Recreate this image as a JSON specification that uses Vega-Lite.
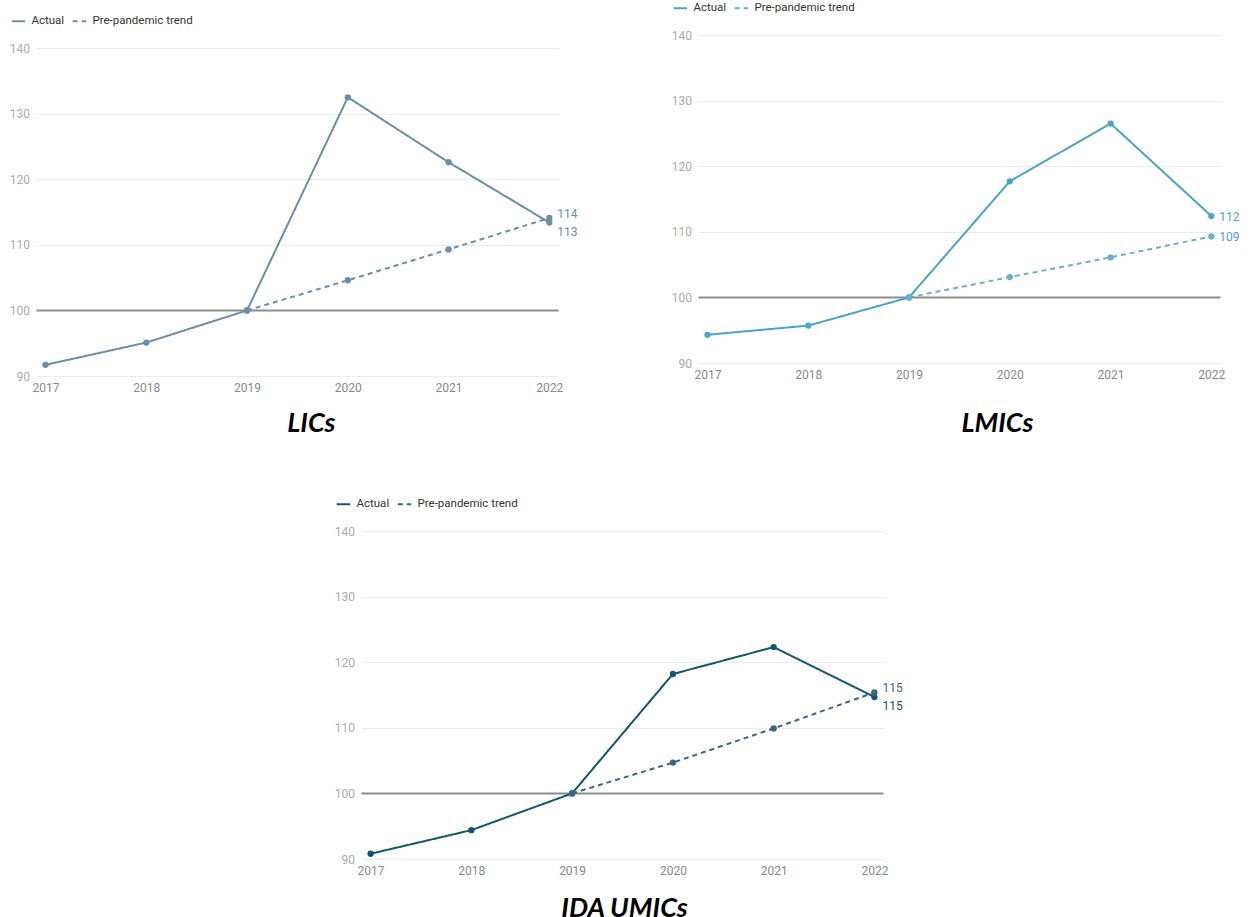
{
  "$schema": "https://vega.github.io/schema/vega-lite/v6.json",
  "background": "white",
  "padding": {"left": 0, "top": 0, "right": 5, "bottom": 0},
  "config": {
    "font": "Roboto",
    "view": {"stroke": null},
    "legend": {
      "orient": "none",
      "direction": "horizontal",
      "title": null,
      "symbolType": "stroke",
      "symbolStrokeWidth": 2,
      "symbolSize": 180,
      "labelFontSize": 11.5,
      "labelColor": "#333333",
      "labelFont": "Roboto",
      "labelOffset": 5,
      "columnPadding": 4,
      "padding": 0
    },
    "title": {"font": "Lato", "fontSize": 27, "fontWeight": "bold", "fontStyle": "italic", "color": "#000000", "orient": "bottom", "anchor": "middle"}
  },
  "datasets": {
    "lics": [
      {"year": "2017", "series": "Actual", "value": 91.7},
      {"year": "2018", "series": "Actual", "value": 95.1},
      {"year": "2019", "series": "Actual", "value": 100},
      {"year": "2020", "series": "Actual", "value": 132.5},
      {"year": "2021", "series": "Actual", "value": 122.6},
      {"year": "2022", "series": "Actual", "value": 113.4},
      {"year": "2019", "series": "Pre-pandemic trend", "value": 100},
      {"year": "2020", "series": "Pre-pandemic trend", "value": 104.6},
      {"year": "2021", "series": "Pre-pandemic trend", "value": 109.3},
      {"year": "2022", "series": "Pre-pandemic trend", "value": 114.1}
    ],
    "lmics": [
      {"year": "2017", "series": "Actual", "value": 94.3},
      {"year": "2018", "series": "Actual", "value": 95.7},
      {"year": "2019", "series": "Actual", "value": 100},
      {"year": "2020", "series": "Actual", "value": 117.7},
      {"year": "2021", "series": "Actual", "value": 126.5},
      {"year": "2022", "series": "Actual", "value": 112.4},
      {"year": "2019", "series": "Pre-pandemic trend", "value": 100},
      {"year": "2020", "series": "Pre-pandemic trend", "value": 103.1},
      {"year": "2021", "series": "Pre-pandemic trend", "value": 106.1},
      {"year": "2022", "series": "Pre-pandemic trend", "value": 109.3}
    ],
    "ida_umics": [
      {"year": "2017", "series": "Actual", "value": 90.8},
      {"year": "2018", "series": "Actual", "value": 94.4},
      {"year": "2019", "series": "Actual", "value": 100},
      {"year": "2020", "series": "Actual", "value": 118.2},
      {"year": "2021", "series": "Actual", "value": 122.3},
      {"year": "2022", "series": "Actual", "value": 114.7},
      {"year": "2019", "series": "Pre-pandemic trend", "value": 100},
      {"year": "2020", "series": "Pre-pandemic trend", "value": 104.7},
      {"year": "2021", "series": "Pre-pandemic trend", "value": 109.9},
      {"year": "2022", "series": "Pre-pandemic trend", "value": 115.4}
    ],
    "baseline": [{"level": 100}]
  },
  "vconcat": [
    {
      "hconcat": [
        {
          "width": 522, "height": 341,
          "title": {"text": "LICs", "dx": 14, "offset": 18},
          "layer": [
            {
              "data": {"name": "baseline"},
              "mark": {"type": "rule", "color": "#8c8c8c", "strokeWidth": 2},
              "encoding": {"y": {"field": "level", "type": "quantitative", "scale": {"domain": [90, 142], "nice": false, "zero": false}, "axis": {"values": [90, 100, 110, 120, 130, 140], "grid": true, "gridColor": "#ebebeb", "domain": false, "ticks": false, "labelColor": "#aaaaaa", "labelFontSize": 12, "labelPadding": 7, "minExtent": 36, "title": null}}}
            },
            {
              "data": {"name": "lics"},
              "mark": {"type": "line", "strokeWidth": 2},
              "encoding": {
                "x": {"field": "year", "type": "ordinal", "scale": {"type": "point", "padding": 0.09}, "axis": {"domain": false, "ticks": false, "labelAngle": 0, "labelColor": "#888888", "labelFontSize": 12, "labelPadding": 6, "title": null}},
                "y": {"field": "value", "type": "quantitative"},
                "color": {"field": "series", "type": "nominal", "scale": {"domain": ["Actual", "Pre-pandemic trend"], "range": ["#6a8fa5", "#6a8fa5"]}, "legend": {"symbolType": "stroke", "legendX": -26, "legendY": -22}},
                "strokeDash": {"field": "series", "type": "nominal", "scale": {"domain": ["Actual", "Pre-pandemic trend"], "range": [[1, 0], [5, 4]]}}
              }
            },
            {
              "data": {"name": "lics"},
              "mark": {"type": "point", "filled": true, "opacity": 1, "size": 40},
              "encoding": {
                "x": {"field": "year", "type": "ordinal"},
                "y": {"field": "value", "type": "quantitative"},
                "color": {"field": "series", "type": "nominal", "legend": null}
              }
            },
            {
              "data": {"name": "lics"},
              "transform": [{"filter": "datum.year == '2022' && datum.series == 'Pre-pandemic trend'"}],
              "mark": {"type": "text", "align": "left", "dx": 8, "dy": -4, "fontSize": 12, "color": "#6a8fa5"},
              "encoding": {"x": {"field": "year", "type": "ordinal"}, "y": {"field": "value", "type": "quantitative"}, "text": {"field": "value", "type": "quantitative", "format": ".0f"}}
            },
            {
              "data": {"name": "lics"},
              "transform": [{"filter": "datum.year == '2022' && datum.series == 'Actual'"}],
              "mark": {"type": "text", "align": "left", "dx": 8, "dy": 9, "fontSize": 12, "color": "#6a8fa5"},
              "encoding": {"x": {"field": "year", "type": "ordinal"}, "y": {"field": "value", "type": "quantitative"}, "text": {"field": "value", "type": "quantitative", "format": ".0f"}}
            }
          ]
        },
        {
          "width": 522, "height": 328,
          "title": {"text": "LMICs", "dx": 38, "offset": 31},
          "layer": [
            {
              "data": {"name": "baseline"},
              "mark": {"type": "rule", "color": "#8c8c8c", "strokeWidth": 2},
              "encoding": {"y": {"field": "level", "type": "quantitative", "scale": {"domain": [90, 140], "nice": false, "zero": false}, "axis": {"values": [90, 100, 110, 120, 130, 140], "grid": true, "gridColor": "#ebebeb", "domain": false, "ticks": false, "labelColor": "#aaaaaa", "labelFontSize": 12, "labelPadding": 7, "title": null}}}
            },
            {
              "data": {"name": "lmics"},
              "mark": {"type": "line", "strokeWidth": 2},
              "encoding": {
                "x": {"field": "year", "type": "ordinal", "scale": {"type": "point", "padding": 0.09}, "axis": {"domain": false, "ticks": false, "labelAngle": 0, "labelColor": "#888888", "labelFontSize": 12, "labelPadding": 6, "title": null}},
                "y": {"field": "value", "type": "quantitative"},
                "color": {"field": "series", "type": "nominal", "scale": {"domain": ["Actual", "Pre-pandemic trend"], "range": ["#4aa3c9", "#6aaed0"]}, "legend": {"symbolType": "stroke", "legendX": -26, "legendY": -35}},
                "strokeDash": {"field": "series", "type": "nominal", "scale": {"domain": ["Actual", "Pre-pandemic trend"], "range": [[1, 0], [5, 4]]}}
              }
            },
            {
              "data": {"name": "lmics"},
              "mark": {"type": "point", "filled": true, "opacity": 1, "size": 40},
              "encoding": {
                "x": {"field": "year", "type": "ordinal"},
                "y": {"field": "value", "type": "quantitative"},
                "color": {"field": "series", "type": "nominal", "legend": null}
              }
            },
            {
              "data": {"name": "lmics"},
              "transform": [{"filter": "datum.year == '2022' && datum.series == 'Pre-pandemic trend'"}],
              "mark": {"type": "text", "align": "left", "dx": 8, "dy": 1, "fontSize": 12, "color": "#4aa3c9"},
              "encoding": {"x": {"field": "year", "type": "ordinal"}, "y": {"field": "value", "type": "quantitative"}, "text": {"field": "value", "type": "quantitative", "format": ".0f"}}
            },
            {
              "data": {"name": "lmics"},
              "transform": [{"filter": "datum.year == '2022' && datum.series == 'Actual'"}],
              "mark": {"type": "text", "align": "left", "dx": 8, "dy": 1, "fontSize": 12, "color": "#4aa3c9"},
              "encoding": {"x": {"field": "year", "type": "ordinal"}, "y": {"field": "value", "type": "quantitative"}, "text": {"field": "value", "type": "quantitative", "format": ".0f"}}
            }
          ]
        }
      ],
      "spacing": 92,
      "resolve": {"scale": {"color": "independent", "strokeDash": "independent", "x": "independent", "y": "independent"}, "legend": {"color": "independent", "strokeDash": "independent"}}
    },
    {
      "width": 522, "height": 328,
      "title": {"text": "IDA UMICs", "dx": 2, "offset": 20},
      "resolve": {"axis": {"y": "independent"}},
      "layer": [
        {
          "data": {"name": "baseline"},
          "mark": {"type": "rule", "color": "#8c8c8c", "strokeWidth": 2},
          "encoding": {"y": {"field": "level", "type": "quantitative", "scale": {"domain": [90, 140], "nice": false, "zero": false}, "axis": {"orient": "left", "values": [90, 100, 110, 120, 130, 140], "grid": true, "gridColor": "#ebebeb", "domain": false, "ticks": false, "labelColor": "#aaaaaa", "labelFontSize": 12, "labelPadding": 7, "title": null}}}
        },
        {
          "data": {"name": "ida_umics"},
          "mark": {"type": "line", "strokeWidth": 2},
          "encoding": {
            "x": {"field": "year", "type": "ordinal", "scale": {"type": "point", "padding": 0.09}, "axis": {"domain": false, "ticks": false, "labelAngle": 0, "labelColor": "#888888", "labelFontSize": 12, "labelPadding": 6, "title": null}},
            "y": {"field": "value", "type": "quantitative", "axis": null},
            "color": {"field": "series", "type": "nominal", "scale": {"domain": ["Actual", "Pre-pandemic trend"], "range": ["#13576f", "#3a6585"]}, "legend": {"symbolType": "stroke", "legendX": -26, "legendY": -35}},
            "strokeDash": {"field": "series", "type": "nominal", "scale": {"domain": ["Actual", "Pre-pandemic trend"], "range": [[1, 0], [5, 4]]}}
          }
        },
        {
          "data": {"name": "ida_umics"},
          "mark": {"type": "point", "filled": true, "opacity": 1, "size": 40},
          "encoding": {
            "x": {"field": "year", "type": "ordinal"},
            "y": {"field": "value", "type": "quantitative", "axis": null},
            "color": {"field": "series", "type": "nominal", "legend": null}
          }
        },
        {
          "data": {"name": "ida_umics"},
          "transform": [{"filter": "datum.year == '2022' && datum.series == 'Pre-pandemic trend'"}],
          "mark": {"type": "text", "align": "left", "dx": 8, "dy": -4, "fontSize": 12, "color": "#3a6585"},
          "encoding": {"x": {"field": "year", "type": "ordinal"}, "y": {"field": "value", "type": "quantitative", "axis": {"orient": "right", "labels": false, "ticks": false, "domain": false, "grid": false, "minExtent": 31, "title": null}}, "text": {"field": "value", "type": "quantitative", "format": ".0f"}}
        },
        {
          "data": {"name": "ida_umics"},
          "transform": [{"filter": "datum.year == '2022' && datum.series == 'Actual'"}],
          "mark": {"type": "text", "align": "left", "dx": 8, "dy": 9, "fontSize": 12, "color": "#13576f"},
          "encoding": {"x": {"field": "year", "type": "ordinal"}, "y": {"field": "value", "type": "quantitative", "axis": null}, "text": {"field": "value", "type": "quantitative", "format": ".0f"}}
        }
      ]
    }
  ],
  "spacing": 59,
  "center": true,
  "resolve": {"scale": {"color": "independent", "strokeDash": "independent", "x": "independent", "y": "independent"}, "legend": {"color": "independent", "strokeDash": "independent"}}
}
